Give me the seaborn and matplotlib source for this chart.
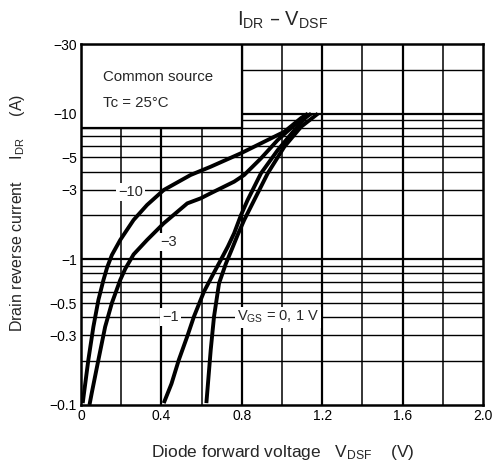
import numpy as np
import pandas as pd
import matplotlib
matplotlib.use("Agg")
import matplotlib.pyplot as plt
import seaborn as sns
from matplotlib.patches import Rectangle
from matplotlib.ticker import FixedLocator, LogLocator, NullFormatter, MultipleLocator

# Curves (x = V_DSF in V, y = |I_DR| in A)
x_m10 = [0.0085, 0.015, 0.0365, 0.0615, 0.0865, 0.1115, 0.13, 0.1535, 0.195, 0.2615,
         0.3285, 0.4115, 0.545, 0.645, 0.795, 0.9285, 1.0115, 1.095, 1.1285]
y_m10 = [0.103, 0.121, 0.204, 0.344, 0.526, 0.72, 0.88, 1.07, 1.357, 1.862,
         2.36, 2.99, 3.79, 4.32, 5.34, 6.59, 7.51, 9.33, 10.0]

x_m3 = [0.042, 0.0535, 0.0865, 0.12, 0.1535, 0.195, 0.22, 0.2615, 0.3285, 0.4115,
        0.5285, 0.595, 0.645, 0.7615, 0.8115, 0.895, 0.9785, 1.0615, 1.145]
y_m3 = [0.1, 0.121, 0.204, 0.344, 0.501, 0.721, 0.86, 1.08, 1.357, 1.766,
        2.42, 2.62, 2.84, 3.41, 3.79, 4.93, 6.59, 8.35, 10.0]

x_m1 = [0.4115, 0.45, 0.4865, 0.53, 0.5615, 0.6115, 0.655, 0.695, 0.73, 0.7615,
        0.795, 0.8285, 0.895, 0.9785, 1.0615, 1.1285]
y_m1 = [0.103, 0.14, 0.204, 0.30, 0.404, 0.60, 0.78, 0.989, 1.22, 1.508,
        2.0, 2.55, 3.89, 5.62, 7.71, 9.78]

x_0 = [0.6235, 0.645, 0.6615, 0.6865, 0.72, 0.75, 0.78, 0.8115, 0.8615, 0.9285,
       1.0115, 1.095, 1.1785]
y_0 = [0.103, 0.238, 0.404, 0.684, 0.93, 1.17, 1.48, 1.86, 2.55, 3.89,
       5.93, 8.13, 10.0]

y_ticks = [0.1, 0.3, 0.5, 1, 3, 5, 10, 30]
y_tick_labels = ["\u22120.1", "\u22120.3", "\u22120.5", "\u22121", "\u22123", "\u22125", "\u221210", "\u221230"]
x_ticks = [0, 0.4, 0.8, 1.2, 1.6, 2.0]
x_tick_labels = ["0", "0.4", "0.8", "1.2", "1.6", "2.0"]

curves = pd.concat([
    pd.DataFrame({"V": x_m10, "I": y_m10, "VGS": "-10"}),
    pd.DataFrame({"V": x_m3, "I": y_m3, "VGS": "-3"}),
    pd.DataFrame({"V": x_m1, "I": y_m1, "VGS": "-1"}),
    pd.DataFrame({"V": x_0, "I": y_0, "VGS": "0"}),
])

sns.set_theme(style="white")
plt.rcParams["font.family"] = ["Liberation Sans", "DejaVu Sans"]

fig = plt.figure(figsize=(4.94, 4.69), dpi=100)
ax = fig.add_axes([0.164, 0.1365, 0.814, 0.7695])

ax.set_yscale("log")
ax.set_xlim(0, 2.0)
ax.set_ylim(0.1, 30)

ax.xaxis.set_major_locator(FixedLocator(x_ticks))
ax.xaxis.set_minor_locator(MultipleLocator(0.2))
ax.yaxis.set_major_locator(FixedLocator(y_ticks))
ax.yaxis.set_minor_locator(LogLocator(base=10, subs=np.arange(1, 10)))
ax.yaxis.set_minor_formatter(NullFormatter())
ax.set_xticklabels(x_tick_labels)
ax.set_yticklabels(y_tick_labels)

# grid lines
for v in np.arange(0.2, 2.0, 0.2):
    lw = 1.6 if abs(v / 0.4 - round(v / 0.4)) < 1e-6 else 1.1
    ax.axvline(v, color="black", lw=lw, zorder=1)
for dec in [0.1, 1, 10]:
    for s in range(1, 10):
        val = dec * s
        if val <= 0.1 or val >= 30:
            continue
        lw = 1.6 if s == 1 else 1.0
        ax.axhline(val, color="black", lw=lw, zorder=1)

# text box upper left
ax.add_patch(Rectangle((0, 8), 0.8, 22, facecolor="white", edgecolor="black", lw=1.6, zorder=2))
ax.text(0.11, 17.8, "Common source", fontsize=10.8, va="center", zorder=3)
ax.text(0.11, 11.8, "Tc = 25\u00b0C", fontsize=10.8, va="center", zorder=3)

sns.lineplot(data=curves, x="V", y="I", units="VGS", estimator=None, sort=False,
             color="black", lw=2.8, ax=ax, zorder=4, legend=False,
             solid_joinstyle="round", solid_capstyle="butt")

box = dict(facecolor="white", edgecolor="none", pad=1.5)
ax.text(0.245, 2.9, "\u221210", fontsize=10.5, ha="center", va="center", bbox=box, zorder=5)
ax.text(0.437, 1.32, "\u22123", fontsize=10.5, ha="center", va="center", bbox=box, zorder=5)
ax.text(0.445, 0.4, "\u22121", fontsize=10.5, ha="center", va="center", bbox=box, zorder=5)
ax.text(0.98, 0.4, "$\\mathregular{V_{GS}}$ = 0, 1 V", fontsize=10.5, ha="center", va="center",
        bbox=box, zorder=5)

for sp in ax.spines.values():
    sp.set_visible(True)
    sp.set_color("black")
    sp.set_linewidth(1.8)
    sp.set_zorder(6)

ax.tick_params(which="both", length=0, labelsize=10, pad=3, colors="black")
ax.set_xlabel("")
ax.set_ylabel("")

fig.text(0.573, 1 - 457 / 469, "Diode forward voltage   $\\mathregular{V_{DSF}}$    (V)",
         fontsize=12.5, ha="center", va="baseline")
fig.text(18 / 494, 1 - 213 / 469,
         "Drain reverse current     $\\mathregular{I_{DR}}$     (A)",
         fontsize=11.5, ha="center", va="center", rotation=90)
fig.text(0.571, 1 - 26 / 469, "$\\mathregular{I_{DR}}$ \u2013 $\\mathregular{V_{DSF}}$",
         fontsize=14.5, ha="center", va="baseline")

fig.savefig("out.png", dpi=100)
